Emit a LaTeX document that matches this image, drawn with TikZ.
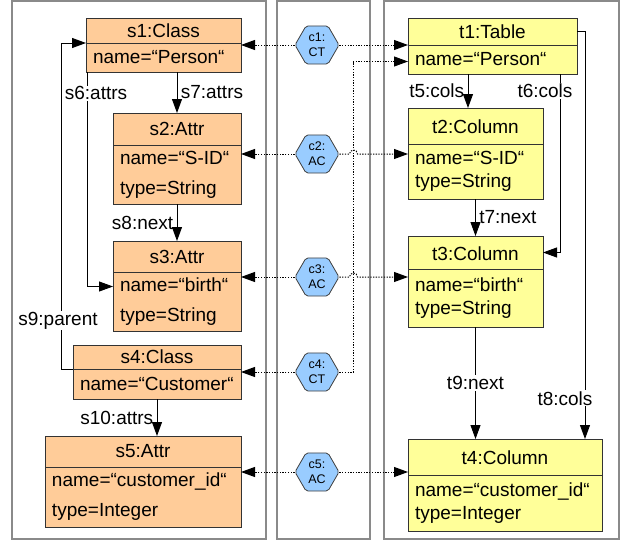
\documentclass[tikz,border=0pt]{standalone}
\usepackage{fontspec}
\setmainfont{Liberation Sans}
\usetikzlibrary{shapes.geometric,arrows.meta}
\definecolor{srcfill}{HTML}{FFCC99}
\definecolor{trgfill}{HTML}{FFFF99}
\definecolor{corrfill}{HTML}{99CCFF}
\definecolor{panelgray}{HTML}{8A8A8A}

\begin{document}
\begin{tikzpicture}[x=1pt,y=-1pt,font=\fontsize{19}{23}\selectfont,
  box/.style={draw=black!80,line width=0.9pt,outer sep=0pt,inner xsep=7pt,inner ysep=1pt,anchor=north west},
  shead/.style={box,fill=srcfill},
  sbody/.style={box,fill=srcfill,align=left,font=\fontsize{19}{30}\selectfont},
  thead/.style={box,fill=trgfill,text height=16pt},
  tbody/.style={box,fill=trgfill,align=left},
  corr/.style={regular polygon,regular polygon sides=6,minimum size=44pt,
    inner sep=0pt,draw=black!75,line width=0.8pt,fill=corrfill,rounded corners=2pt,align=center,
    font=\fontsize{12.5}{15}\selectfont},
  ref/.style={-{Triangle[length=14pt,width=10pt]},line width=0.9pt},
  map/.style={ref,line width=1pt,dash pattern=on 1.3pt off 1.4pt},
  lbl/.style={fill=white,inner sep=1pt}]
\useasboundingbox (0,0) rectangle (622,541);

\draw[panelgray,line width=1.6pt] (12,1) rectangle (266,539);
\draw[panelgray,line width=1.6pt] (277,1) rectangle (370,539);
\draw[panelgray,line width=1.6pt] (384,1) rectangle (619,539);

\node[shead,minimum width=155pt,minimum height=25pt] (s1h) at (86,18) {s1:Class};
\node[sbody,text width=141pt,minimum height=29pt] (s1b) at (s1h.south west) {name=“Person“};
\node[shead,minimum width=128pt,minimum height=32pt] (s2h) at (113,113) {s2:Attr};
\node[sbody,text width=114pt,minimum height=59pt] (s2b) at (s2h.south west) {name=“S-ID“\\type=String};
\node[shead,minimum width=128pt,minimum height=31pt] (s3h) at (113,241) {s3:Attr};
\node[sbody,text width=114pt,minimum height=59pt] (s3b) at (s3h.south west) {name=“birth“\\type=String};
\node[shead,minimum width=168pt,minimum height=24pt] (s4h) at (73,345) {s4:Class};
\node[sbody,text width=154pt,minimum height=30pt] (s4b) at (s4h.south west) {name=“Customer“};
\node[shead,minimum width=196pt,minimum height=31pt] (s5h) at (45,436) {s5:Attr};
\node[sbody,text width=182pt,minimum height=60pt] (s5b) at (s5h.south west) {name=“customer\_id“\\type=Integer};

\node[thead,minimum width=169pt,minimum height=27pt,text height=13.6pt] (t1h) at (408,18) {t1:Table};
\node[tbody,text width=155pt,minimum height=29pt] (t1b) at (t1h.south west) {name=“Person“};
\node[thead,minimum width=135pt,minimum height=36pt] (t2h) at (408,108) {t2:Column};
\node[tbody,text width=121pt,minimum height=55pt] (t2b) at (t2h.south west) {name=“S-ID“\\type=String\\[-6pt]};
\node[thead,minimum width=135pt,minimum height=33pt] (t3h) at (408,236) {t3:Column};
\node[tbody,text width=121pt,minimum height=58pt] (t3b) at (t3h.south west) {name=“birth“\\type=String\\[-6pt]};
\node[thead,minimum width=194pt,minimum height=36pt] (t4h) at (408,439) {t4:Column};
\node[tbody,text width=180pt,minimum height=56pt] (t4b) at (t4h.south west) {name=“customer\_id“\\type=Integer\\[-6pt]};

\node[corr] (c1) at (317,45) {c1:\\CT};
\node[corr] (c2) at (317,154) {c2:\\AC};
\node[corr] (c3) at (317,277) {c3:\\AC};
\node[corr] (c4) at (317,372) {c4:\\CT};
\node[corr] (c5) at (317,472) {c5:\\AC};

\draw[map] (c1.west) -- (c1.west -| s1b.east);
\draw[map] (c1.east) -- (c1.east -| t1b.west);
\draw[map] (c2.west) -- (c2.west -| s2b.east);
\draw[map] (c2.east) -- ++(10,0) arc (180:0:4pt) -- (c2.east -| t2b.west);
\draw[map] (c3.west) -- (c3.west -| s3b.east);
\draw[map] (c3.east) -- ++(10,0) arc (180:0:4pt) -- (c3.east -| t3b.west);
\draw[map] (c4.west) -- (c4.west -| s4b.east);
\draw[map] (c4.east) -- ++(14,0) |- ([yshift=-2pt]t1b.west);
\draw[map] (c5.west) -- (c5.west -| s5b.east);
\draw[map] (c5.east) -- (c5.east -| t4b.west);

\draw[ref] (s1b.south -| s2h.north) -- (s2h.north) node[midway,right] {s7:attrs};
\draw[ref] ([xshift=1pt]s1b.south west) |- ([yshift=15pt]s3b.west) node[lbl,pos=0.05,xshift=9pt] {s6:attrs};
\draw[ref] (s2b.south) -- (s3h.north) node[midway,left] {s8:next};
\draw[ref] (s4h.south west) -- ++(-12,0) |- (s1h.south west) node[lbl,pos=0.074,xshift=-3pt] {s9:parent};
\draw[ref] (s4b.south) -- (s4b.south |- s5h.north) node[midway,left] {s10:attrs};

\coordinate (t5x) at ([xshift=-7.5pt]t2h.north);
\coordinate (t6x) at ([xshift=-17pt]t1b.south east);
\draw[ref] (t5x |- t1b.south) -- (t5x) node[midway,left] {t5:cols};
\draw[ref] (t6x) |- (t3h.east) node[lbl,pos=0.048,xshift=-15pt] {t6:cols};
\draw[ref] (t2b.south) -- (t3h.north) node[midway,right] {t7:next};
\draw[ref] (t1h.east) -| ([xshift=-17pt]t4h.north east) node[lbl,pos=0.95,xshift=-20pt] {t8:cols};
\draw[ref] (t3b.south) -- (t3b.south |- t4h.north) node[lbl,midway] {t9:next};
\end{tikzpicture}
\end{document}
